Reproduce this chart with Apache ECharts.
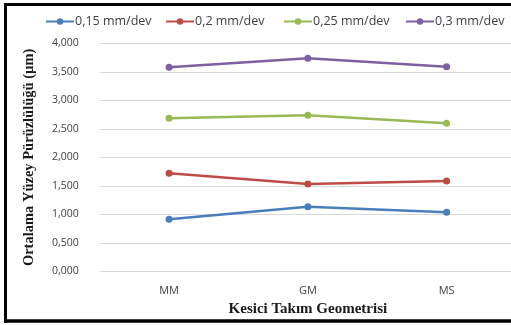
<!DOCTYPE html>
<html>
<head>
<meta charset="utf-8">
<script src="https://cdn.jsdelivr.net/npm/echarts@6/dist/echarts.min.js"></script>
<style>
  html, body { margin: 0; padding: 0; background: #fff; }
  #chart { width: 511px; height: 325px; }
</style>
</head>
<body>
<div id="chart"></div>
<script>
// Cutting tool geometries on the x axis
const categories = ['MM', 'GM', 'MS'];
// Mean surface roughness (µm) per feed rate
const feed015 = [0.915, 1.136, 1.038];
const feed020 = [1.721, 1.534, 1.586];
const feed025 = [2.685, 2.738, 2.598];
const feed030 = [3.579, 3.737, 3.590];
const seriesNames = ['0,15 mm/dev', '0,2 mm/dev', '0,25 mm/dev', '0,3 mm/dev'];
const seriesColors = ['#4a7ebb', '#be4b48', '#98b954', '#7d60a0'];
const seriesData = [feed015, feed020, feed025, feed030];
const legendLeft = [40, 160, 278, 400];

const chart = echarts.init(document.getElementById('chart'), null, { renderer: 'canvas' });

const fmt = v => v.toFixed(3).replace('.', ',');

const option = {
  animation: false,
  backgroundColor: '#ffffff',
  legend: seriesNames.map((n, i) => ({
    data: [n],
    left: legendLeft[i],
    top: 10,
    itemWidth: 28,
    itemHeight: 8,
    itemGap: 0,
    textStyle: { fontFamily: 'Open Sans', fontSize: 12.5, color: '#404040', padding: [0, 0, 0, -4] }
  })),
  grid: {
    left: 99.7, top: 43.3, height: 228.2, width: 416.3,
    containLabel: false,
    outerBoundsMode: 'none'
  },
  xAxis: {
    type: 'category',
    data: categories,
    boundaryGap: true,
    axisLine: { show: false },
    axisTick: { show: false },
    axisLabel: { margin: 14, fontFamily: 'Open Sans', fontSize: 11, color: '#404040' },
    name: 'Kesici Takım Geometrisi',
    nameLocation: 'middle',
    nameGap: 30,
    nameTextStyle: { fontFamily: 'Liberation Serif', fontWeight: 'bold', fontSize: 15, color: '#1a1a1a' }
  },
  yAxis: {
    type: 'value',
    min: 0,
    max: 4,
    interval: 0.5,
    axisLine: { show: false },
    axisTick: { show: false },
    splitLine: { lineStyle: { color: '#d9d9d9', width: 1 } },
    axisLabel: { margin: 21, fontFamily: 'Open Sans', fontSize: 10.5, color: '#404040', formatter: fmt },
    name: 'Ortalama Yüzey Pürüzlülüğü (µm)',
    nameLocation: 'middle',
    nameGap: 63,
    nameTextStyle: { fontFamily: 'Liberation Serif', fontWeight: 'bold', fontSize: 14.5, color: '#1a1a1a' }
  },
  series: seriesNames.map((n, i) => ({
    name: n,
    type: 'line',
    data: seriesData[i],
    symbol: 'circle',
    symbolSize: 7,
    color: seriesColors[i],
    lineStyle: { width: 2.5, color: seriesColors[i] },
    itemStyle: { color: seriesColors[i] }
  })),
  graphic: [
    { type: 'line', shape: { x1: 5.5, y1: 3, x2: 5.5, y2: 323 }, style: { stroke: '#000', lineWidth: 3 } },
    { type: 'line', shape: { x1: 4, y1: 4.5, x2: 511, y2: 4.5 }, style: { stroke: '#000', lineWidth: 3 } },
    { type: 'line', shape: { x1: 4, y1: 321, x2: 511, y2: 321 }, style: { stroke: '#000', lineWidth: 3.5 } }
  ]
};

chart.setOption(option);
</script>
</body>
</html>
